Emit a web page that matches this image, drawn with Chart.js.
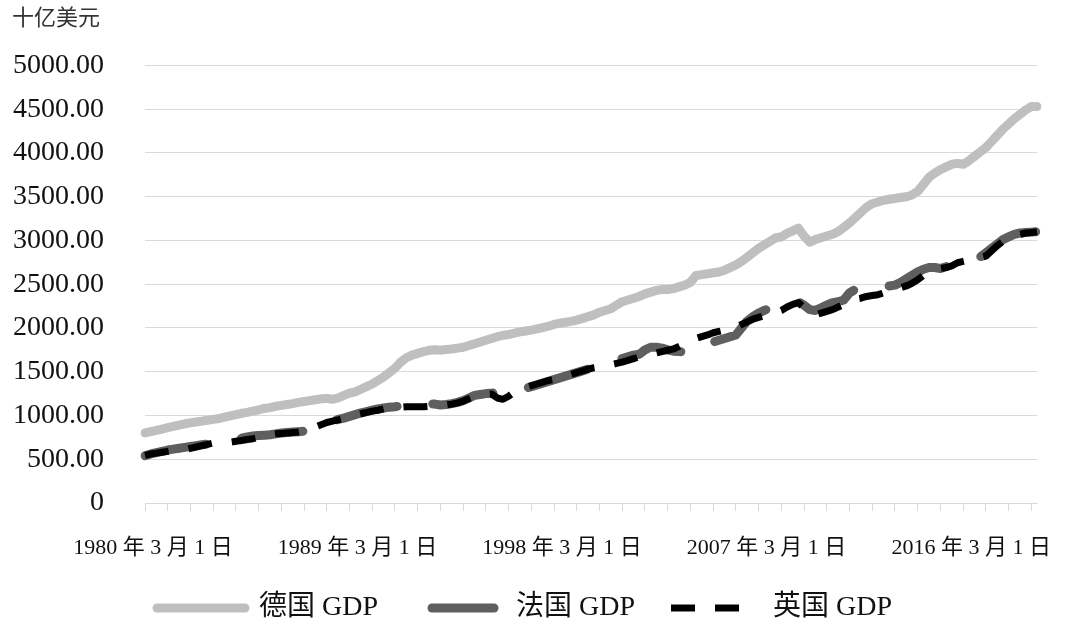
<!DOCTYPE html>
<html>
<head>
<meta charset="utf-8">
<script src="https://cdn.jsdelivr.net/npm/chart.js@4.4.1/dist/chart.umd.min.js"></script>
<style>
html,body{margin:0;padding:0;background:#fff;}
#wrap{width:1080px;height:638px;}
</style>
</head>
<body>
<div id="wrap"><canvas id="c" width="1080" height="638"></canvas></div>
<script>
// ---- data (quarterly, 1980 Q1 .. 2019 Q2), billions of US dollars ----
const years = [1980,1981,1982,1983,1984,1985,1986,1987,1988,1989,1990,1991,1992,1993,1994,1995,1996,1997,1998,1999,
               2000,2001,2002,2003,2004,2005,2006,2007,2008,2009,2010,2011,2012,2013,2014,2015,2016,2017,2018,2019];
const quarterMonths = ['3','6','9','12'];
const seriesNames = ['德国 GDP','法国 GDP','英国 GDP'];
const yAxisUnit = '十亿美元';

const germanyGDP = [
  800,815,830,845, 860,875,890,905, 915,925,935,945, 955,965,980,995, 1010,1025,1035,1050,
  1065,1080,1090,1105, 1115,1125,1135,1150, 1160,1170,1180,1190, 1195,1185,1200,1230, 1255,1270,1300,1330,
  1360,1400,1440,1490, 1540,1610,1660,1690, 1710,1730,1745,1750, 1745,1755,1760,1770, 1780,1800,1820,1840,
  1860,1880,1900,1915, 1925,1940,1955,1965, 1975,1990,2005,2020, 2040,2055,2065,2075, 2090,2110,2130,2150,
  2180,2200,2220,2260, 2300,2320,2340,2360, 2390,2410,2430,2440, 2440,2450,2470,2490, 2520,2600,2610,2620,
  2630,2640,2660,2690, 2720,2760,2810,2860, 2910,2950,2990,3030, 3040,3080,3110,3140, 3050,2980,3010,3030,
  3050,3070,3100,3150, 3200,3260,3320,3380, 3420,3440,3460,3470, 3480,3490,3500,3520, 3560,3640,3720,3770,
  3810,3840,3870,3880, 3870,3910,3960,4010, 4060,4130,4200,4270, 4330,4390,4440,4490, 4530,4530
];
const franceGDP = [
  540,560,575,590, 605,615,625,635, 645,655,665,675, 685,695,705,715, 725,740,755,765,
  770,775,780,790, 800,805,810,815, 820,830,860,890, 920,940,955,970, 990,1010,1030,1045,
  1060,1075,1085,1095, 1100,1110,1120,1130, 1140,1140,1135,1130, 1120,1125,1135,1150, 1170,1200,1230,1240,
  1250,1255,1260,1265, 1270,1275,1290,1310, 1330,1350,1370,1390, 1410,1430,1450,1470, 1490,1510,1530,1550,
  1570,1590,1610,1630, 1650,1670,1690,1700, 1750,1780,1780,1770, 1750,1735,1730,1725, 1730,1750,1780,1810,
  1840,1860,1880,1900, 1920,2000,2080,2130, 2170,2200,2230,2260, 2280,2290,2300,2300, 2260,2210,2200,2230,
  2260,2290,2300,2320, 2400,2440,2460,2460, 2460,2465,2470,2480, 2490,2520,2560,2600, 2640,2670,2690,2690,
  2680,2700,2720,2745, 2760,2775,2790,2810, 2860,2910,2960,3010, 3040,3070,3085,3090, 3095,3100
];
const ukGDP = [
  545,560,570,580, 590,600,605,610, 625,640,655,670, 685,690,690,695, 705,715,725,735,
  750,765,780,790, 795,800,805,810, 820,840,870,895, 920,935,950,965, 985,1005,1020,1035,
  1050,1060,1075,1085, 1090,1095,1100,1100, 1100,1100,1105,1110, 1115,1120,1130,1145, 1165,1190,1215,1230,
  1240,1245,1200,1185, 1220,1270,1300,1320, 1340,1360,1380,1400, 1410,1430,1450,1470, 1490,1510,1530,1545,
  1555,1570,1580,1595, 1610,1630,1650,1670, 1690,1700,1715,1730, 1745,1760,1790,1820, 1860,1880,1900,1920,
  1945,1960,1975,1990, 2010,2040,2070,2100, 2120,2140,2160,2180, 2200,2240,2270,2290, 2230,2160,2150,2170,
  2190,2210,2240,2270, 2300,2330,2340,2360, 2370,2380,2400,2420, 2440,2460,2480,2510, 2550,2600,2630,2660,
  2680,2690,2710,2745, 2760,2775,2790,2805, 2820,2880,2940,2990, 3020,3050,3070,3085, 3090,3100
];
const yTickValues = [0,500,1000,1500,2000,2500,3000,3500,4000,4500,5000];

// category labels built from the years / months lists
const categories = [];
years.forEach(y => quarterMonths.forEach(m => categories.push(y + ' 年 ' + m + ' 月 1 日')));
categories.length = germanyGDP.length;

const FONT = "'Liberation Serif', 'Noto Sans CJK SC', serif";
const TXT = '#111111';

new Chart(document.getElementById('c'), {
  type: 'line',
  data: {
    labels: categories,
    datasets: [
      {label: seriesNames[0], data: germanyGDP, borderColor: '#bfbfbf', backgroundColor: '#bfbfbf',
       borderWidth: 9, borderCapStyle: 'round', borderJoinStyle: 'round', pointRadius: 0, tension: 0, order: 2, pointStyle: 'line'},
      {label: seriesNames[1], data: franceGDP, borderColor: '#5f5f5f', backgroundColor: '#5f5f5f',
       borderWidth: 9, borderCapStyle: 'round', borderJoinStyle: 'round', borderDash: [62, 36], pointRadius: 0, tension: 0, order: 1, pointStyle: 'line'},
      {label: seriesNames[2], data: ukGDP, borderColor: '#000000', backgroundColor: '#000000',
       borderWidth: 7, borderCapStyle: 'butt', borderJoinStyle: 'round', borderDash: [24, 20], pointRadius: 0, tension: 0, order: 0, pointStyle: 'line'}
    ]
  },
  options: {
    responsive: false,
    animation: false,
    layout: {padding: {left: 12, right: 43, top: 0, bottom: 6}},
    plugins: {
      tooltip: {enabled: false},
      title: {
        display: true, text: yAxisUnit, align: 'start', color: '#333',
        font: {family: FONT, size: 22, weight: 'normal'},
        padding: {top: 6, bottom: 33}
      },
      legend: {
        position: 'bottom',
        labels: {
          usePointStyle: true, pointStyleWidth: 88, padding: 36, color: TXT,
          font: {family: FONT, size: 28},
          sort: (a, b) => a.datasetIndex - b.datasetIndex,
          generateLabels: chart => {
            const items = Chart.defaults.plugins.legend.labels.generateLabels(chart);
            items.forEach(it => {
              const ds = chart.data.datasets[it.datasetIndex];
              it.lineDash = ds.borderDash || [];
              it.lineDashOffset = it.datasetIndex === 1 ? 80 : 0;
              it.lineCap = ds.borderCapStyle;
              it.lineWidth = ds.borderWidth;
              it.strokeStyle = ds.borderColor;
            });
            return items;
          }
        }
      }
    },
    scales: {
      x: {
        type: 'category',
        offset: false,
        afterFit: s => { s.height = 55; },
        grid: {
          drawOnChartArea: false, drawTicks: true, tickLength: 8,
          color: ctx => (ctx.index % 4 === 0 ? '#d9d9d9' : 'rgba(0,0,0,0)')
        },
        border: {display: true, color: '#d9d9d9'},
        ticks: {
          autoSkip: false, maxRotation: 0, minRotation: 0, padding: 24, labelOffset: 8,
          color: TXT, font: {family: FONT, size: 22},
          callback: function(v, i) { return i % 36 === 0 ? this.getLabelForValue(v) : ''; }
        }
      },
      y: {
        min: 0, max: 5000,
        afterFit: s => { s.width = 133; },
        afterBuildTicks: s => { s.ticks = yTickValues.map(v => ({value: v})); },
        grid: {color: '#d9d9d9', drawTicks: false, lineWidth: 1},
        border: {display: false},
        ticks: {
          padding: 41, color: TXT, font: {family: FONT, size: 28},
          callback: v => (v === 0 ? '0' : v.toFixed(2))
        }
      }
    }
  }
});
</script>
</body>
</html>
